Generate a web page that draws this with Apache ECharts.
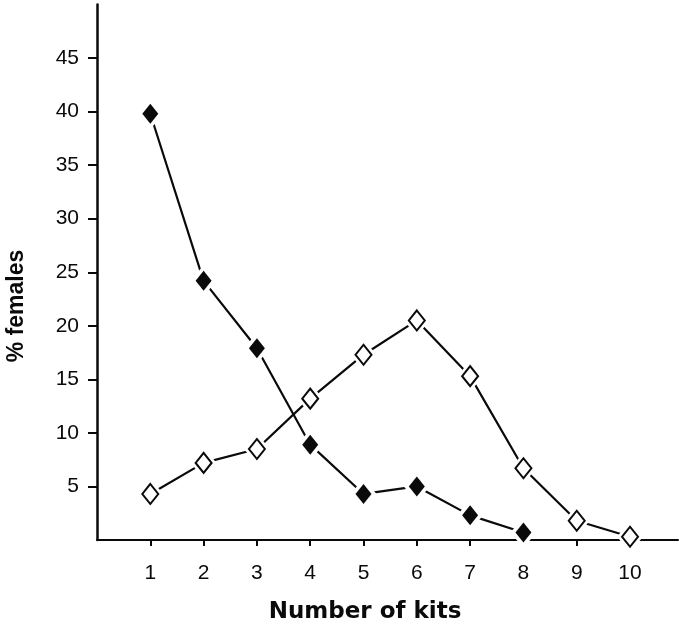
<!DOCTYPE html>
<html>
<head>
<meta charset="utf-8">
<script src="https://cdn.jsdelivr.net/npm/echarts@6/dist/echarts.min.js"></script>
<style>
  html, body { margin: 0; padding: 0; background: #fff; }
  #chart { width: 679px; height: 627px; }
</style>
</head>
<body>
<div id="chart"></div>
<script>
// Litter size distribution (% of females by number of kits)
const kits = [1, 2, 3, 4, 5, 6, 7, 8, 9, 10];
const filledSeries = [39.8, 24.2, 17.9, 8.9, 4.3, 5.0, 2.3, 0.7];
const openSeries = [4.3, 7.2, 8.5, 13.2, 17.3, 20.5, 15.3, 6.7, 1.8, 0.3];
const yTicks = [5, 10, 15, 20, 25, 30, 35, 40, 45];
const xTicks = kits;
const yTitle = '% females';
const xTitle = 'Number of kits';

const FONT = '"Liberation Sans", Arial, Helvetica, sans-serif';
const WIDE_FONT = '"DejaVu Sans", "Liberation Sans", sans-serif';
const INK = '#0a0a0a';

const pairs = (vals) => vals.map((v, i) => [kits[i], v]);
const filledData = pairs(filledSeries);
const openData = pairs(openSeries);

const MARK = [16, 20];
const HALO = [26, 31];

const chart = echarts.init(document.getElementById('chart'), null, { renderer: 'canvas' });

chart.setOption({
  animation: false,
  backgroundColor: '#fff',
  grid: { left: 97, right: 1, top: 4.5, bottom: 87, containLabel: false },
  xAxis: {
    type: 'value',
    min: 0,
    max: 10.9,
    splitLine: { show: false },
    axisLine: { show: true, onZero: false, lineStyle: { color: INK, width: 2 } },
    axisTick: { show: true, length: 6, customValues: xTicks, lineStyle: { color: INK, width: 2 } },
    axisLabel: {
      customValues: xTicks,
      margin: 23,
      color: INK,
      fontFamily: FONT,
      fontSize: 21
    }
  },
  yAxis: {
    type: 'value',
    min: 0,
    max: 50,
    splitLine: { show: false },
    axisLine: { show: true, onZero: false, lineStyle: { color: INK, width: 2.5 } },
    axisTick: { show: true, length: 9, customValues: yTicks, lineStyle: { color: INK, width: 2 } },
    axisLabel: {
      customValues: yTicks,
      margin: 18,
      color: INK,
      fontFamily: FONT,
      fontSize: 21
    }
  },
  graphic: [
    {
      type: 'text',
      x: 17, y: 306,
      rotation: Math.PI / 2,
      style: {
        text: yTitle,
        font: 'bold 23px ' + FONT,
        fill: INK,
        textAlign: 'center',
        textVerticalAlign: 'middle'
      }
    },
    {
      type: 'text',
      x: 365, y: 612,
      style: {
        text: xTitle,
        font: 'bold 23px ' + WIDE_FONT,
        fill: INK,
        textAlign: 'center',
        textVerticalAlign: 'middle'
      }
    }
  ],
  series: [
    {
      type: 'line',
      data: filledData,
      showSymbol: false,
      symbol: 'none',
      lineStyle: { color: INK, width: 2.2 },
      z: 2
    },
    {
      type: 'line',
      data: openData,
      showSymbol: false,
      symbol: 'none',
      lineStyle: { color: INK, width: 2.2 },
      z: 2
    },
    // white halos leave a small gap between lines and markers
    {
      type: 'scatter',
      data: filledData,
      symbol: 'diamond',
      symbolSize: HALO,
      itemStyle: { color: '#fff', opacity: 1 },
      silent: true,
      z: 3
    },
    {
      type: 'scatter',
      data: openData,
      symbol: 'diamond',
      symbolSize: HALO,
      itemStyle: { color: '#fff', opacity: 1 },
      silent: true,
      z: 3
    },
    {
      type: 'scatter',
      data: filledData,
      symbol: 'diamond',
      symbolSize: MARK,
      itemStyle: { color: INK, opacity: 1 },
      z: 4
    },
    {
      type: 'scatter',
      data: openData,
      symbol: 'diamond',
      symbolSize: MARK,
      itemStyle: { color: '#fff', borderColor: INK, borderWidth: 2, opacity: 1 },
      z: 4
    }
  ]
});
</script>
</body>
</html>
